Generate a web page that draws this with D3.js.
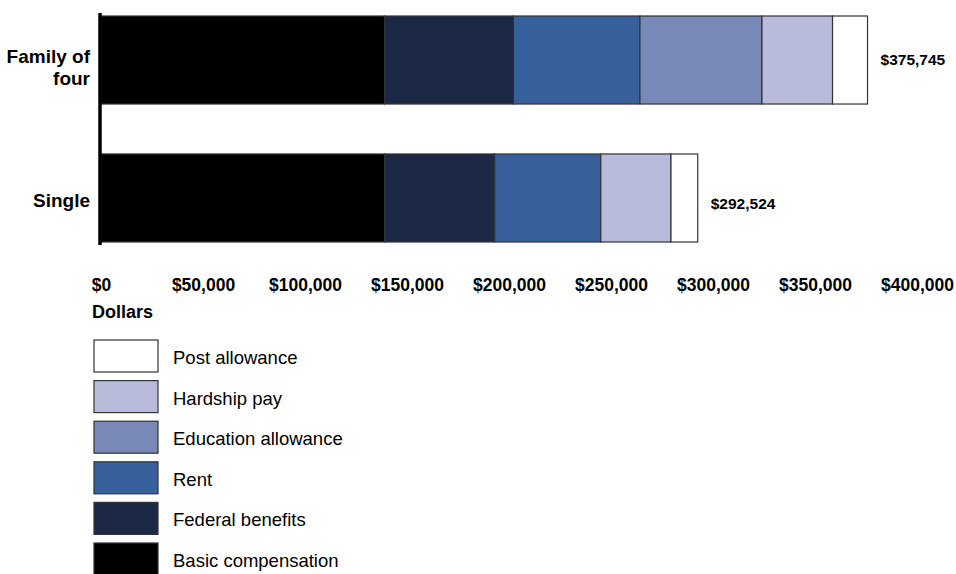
<!DOCTYPE html>
<html>
<head>
<meta charset="utf-8">
<script src="https://cdn.jsdelivr.net/npm/d3@7"></script>
<style>
  body { margin: 0; background: #fff; }
  text { font-family: "Liberation Sans", Arial, sans-serif; }
</style>
</head>
<body>
<div id="chart-area"></div>
<script>
const groups = ["Family of four", "Single"];
const groupLines = [["Family of", "four"], ["Single"]];
const components = ["Basic compensation", "Federal benefits", "Rent", "Education allowance", "Hardship pay", "Post allowance"];
const basicComp = [139000, 139000];
const federalBenefits = [63200, 54000];
const rent = [62000, 52000];
const educationAllowance = [59800, 0];
const hardshipPay = [34600, 34400];
const postAllowance = [17145, 13124];
const totals = [375745, 292524];
const tickValues = [0, 50000, 100000, 150000, 200000, 250000, 300000, 350000, 400000];
const colors = ["#000000", "#1b2846", "#38609c", "#7888b7", "#b8bcda", "#ffffff"];

const width = 956, height = 574;

const rows = groups.map((g, i) => ({
  group: g,
  "Basic compensation": basicComp[i],
  "Federal benefits": federalBenefits[i],
  "Rent": rent[i],
  "Education allowance": educationAllowance[i],
  "Hardship pay": hardshipPay[i],
  "Post allowance": postAllowance[i]
}));

const svg = d3.select("#chart-area")
  .append("svg")
    .attr("width", width)
    .attr("height", height);

const xScale = d3.scaleLinear()
  .domain([0, 400000])
  .range([101, 917]);

const yScale = d3.scaleBand()
  .domain(groups)
  .range([16, 242])
  .paddingInner(0.362)
  .paddingOuter(0);

const colorScale = d3.scaleOrdinal()
  .domain(components)
  .range(colors);

const series = d3.stack().keys(components)(rows);

svg.append("g")
  .selectAll("g")
  .data(series)
  .join("g")
    .attr("fill", d => colorScale(d.key))
  .selectAll("rect")
  .data(d => d.filter(s => s[1] - s[0] > 0))
  .join("rect")
    .attr("x", d => xScale(d[0]))
    .attr("y", d => yScale(d.data.group))
    .attr("width", d => xScale(d[1]) - xScale(d[0]))
    .attr("height", yScale.bandwidth())
    .attr("stroke", "#333")
    .attr("stroke-width", 1.2);

// vertical axis line
svg.append("line")
  .attr("x1", 100).attr("x2", 100)
  .attr("y1", 13).attr("y2", 245)
  .attr("stroke", "#000")
  .attr("stroke-width", 3.5);

// category labels
groups.forEach((g, i) => {
  const lines = groupLines[i];
  const cy = yScale(g) + yScale.bandwidth() / 2;
  const t = svg.append("text")
    .attr("text-anchor", "end")
    .attr("font-weight", "bold")
    .attr("font-size", "19px");
  lines.forEach((ln, j) => {
    t.append("tspan")
      .attr("x", 90)
      .attr("y", cy + 9.5 - (lines.length - 1) * 6.5 + j * 22)
      .text(ln);
  });
});

// totals (the single one sits a little lower in the original)
svg.append("g")
  .selectAll("text")
  .data(groups)
  .join("text")
    .attr("x", (d, i) => xScale(totals[i]) + 13)
    .attr("y", (d, i) => yScale(d) + yScale.bandwidth() / 2 + 5 + i * 6)
    .attr("font-weight", "bold")
    .attr("font-size", "15.5px")
    .text((d, i) => d3.format("$,")(totals[i]));

// x axis
const xAxis = d3.axisBottom(xScale)
  .tickValues(tickValues)
  .tickSize(0)
  .tickPadding(0)
  .tickFormat(d3.format("$,"));

const gx = svg.append("g")
  .attr("transform", "translate(0, 278.5)")
  .call(xAxis);
gx.select(".domain").remove();
gx.selectAll("text")
  .attr("font-family", "Liberation Sans, Arial, sans-serif")
  .attr("font-weight", "bold")
  .attr("font-size", "17.5px")
  .attr("fill", "#000");

svg.append("text")
  .attr("x", 92)
  .attr("y", 318)
  .attr("font-weight", "bold")
  .attr("font-size", "18px")
  .text("Dollars");

// legend (reverse order, top is Post allowance)
const legendItems = components.slice().reverse();
const legend = svg.append("g")
  .attr("transform", "translate(94, 340)");

legendItems.forEach((item, i) => {
  const row = legend.append("g")
    .attr("transform", `translate(0, ${i * 40.6})`);
  row.append("rect")
    .attr("width", 64)
    .attr("height", 32)
    .attr("fill", colorScale(item))
    .attr("stroke", "#333")
    .attr("stroke-width", 1.2);
  row.append("text")
    .attr("x", 79)
    .attr("y", 24)
    .attr("font-size", "18.5px")
    .text(item);
});
</script>
</body>
</html>
